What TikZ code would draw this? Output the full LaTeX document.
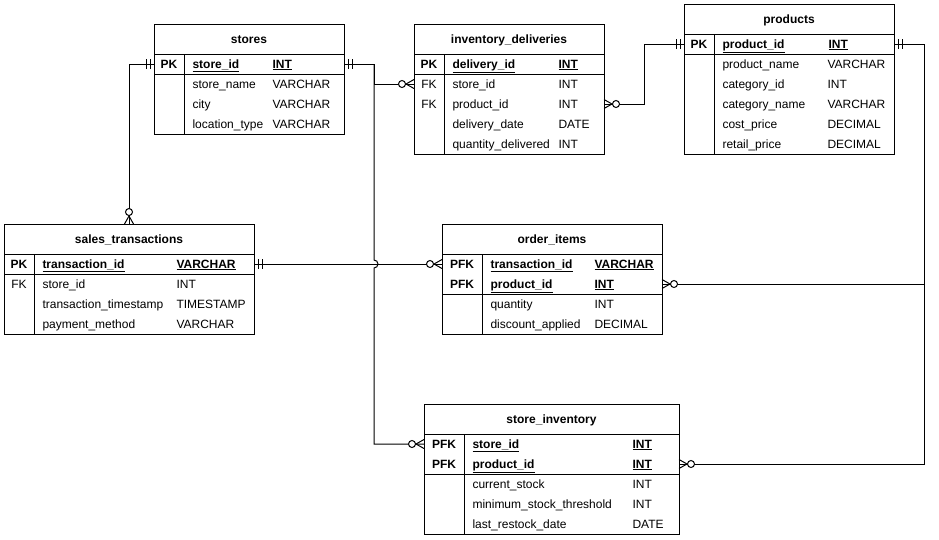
\documentclass[tikz,border=0pt]{standalone}
\usepackage{fontspec}
\setmainfont{Liberation Sans}
\usetikzlibrary{calc}

\tikzset{
  zmany/.pic={\draw (0,-4.5) -- (8,0) -- (0,4.5); \draw[fill=white] (12,0) circle[radius=3.5];},
  onlyone/.pic={\draw (4,-5) -- (4,5) (8,-5) -- (8,5);}
}

\begin{document}
\begin{tikzpicture}[x=1pt,y=-1pt,line width=1pt,
  every node/.style={font=\fontsize{12}{14}\selectfont,inner sep=0pt},
  tbl/.style={draw,anchor=north west,outer sep=0pt},
  ttl/.style={font=\fontsize{12}{14}\selectfont\bfseries,text height=9pt,text depth=1pt},
  fld/.style={anchor=west,text height=9pt,text depth=1pt},
  kfld/.style={fld,font=\fontsize{12}{14}\selectfont\bfseries},
  kcol/.style={text height=9pt,text depth=1pt},
  kbold/.style={kcol,font=\fontsize{12}{14}\selectfont\bfseries},
  conn/.style={line width=1pt}
]
  \useasboundingbox (0,0) rectangle (939,539);

  % stores
  \node[tbl,minimum width=190pt,minimum height=110pt] (stores) at (154,24) {};
  \node[ttl] (st-ttl) at (249,39) {stores};
  \draw (154,54) -- (344,54) (154,74) -- (344,74) (184,54) -- (184,134);
  \node[kbold] (st-k) at (169,64) {PK};
  \node[kfld] (st-id) at (192,64) {\underline{store\_id}};
  \node[kfld] (st-idt) at (272,64) {\underline{INT}};
  \foreach \y/\n/\t in {84/store\_name/VARCHAR,104/city/VARCHAR,124/location\_type/VARCHAR}
    {\node[fld] (st-n\y) at (192,\y) {\n}; \node[fld] (st-t\y) at (272,\y) {\t};}

  % inventory_deliveries
  \node[tbl,minimum width=190pt,minimum height=130pt] (idel) at (414,24) {};
  \node[ttl] (id-ttl) at (509,39) {inventory\_deliveries};
  \draw (414,54) -- (604,54) (414,74) -- (604,74) (444,54) -- (444,154);
  \node[kbold] (id-k) at (429,64) {PK};
  \node[kfld] (id-id) at (452,64) {\underline{delivery\_id}};
  \node[kfld] (id-idt) at (558,64) {\underline{INT}};
  \node[kcol] (id-k2) at (429,84) {FK};
  \node[fld] (id-store) at (452,84) {store\_id};
  \node[fld] (id-storet) at (558,84) {INT};
  \node[kcol] (id-k3) at (429,104) {FK};
  \node[fld] (id-prod) at (452,104) {product\_id};
  \node[fld] (id-prodt) at (558,104) {INT};
  \foreach \y/\n/\t in {124/delivery\_date/DATE,144/quantity\_delivered/INT}
    {\node[fld] (id-n\y) at (452,\y) {\n}; \node[fld] (id-t\y) at (558,\y) {\t};}

  % products
  \node[tbl,minimum width=210pt,minimum height=150pt] (prod) at (684,4) {};
  \node[ttl] (pr-ttl) at (789,19) {products};
  \draw (684,34) -- (894,34) (684,54) -- (894,54) (714,34) -- (714,154);
  \node[kbold] (pr-k) at (699,44) {PK};
  \node[kfld] (pr-id) at (722,44) {\underline{product\_id}};
  \node[kfld] (pr-idt) at (828,44) {\underline{INT}};
  \foreach \y/\n/\t in {64/product\_name/VARCHAR,84/category\_id/INT,104/category\_name/VARCHAR,
    124/cost\_price/DECIMAL,144/retail\_price/DECIMAL}
    {\node[fld] (pr-n\y) at (722,\y) {\n}; \node[fld] (pr-t\y) at (827,\y) {\t};}

  % sales_transactions
  \node[tbl,minimum width=250pt,minimum height=110pt] (sales) at (4,224) {};
  \node[ttl] (tr-ttl) at (129,239) {sales\_transactions};
  \draw (4,254) -- (254,254) (4,274) -- (254,274) (34,254) -- (34,334);
  \node[kbold] (tr-k) at (19,264) {PK};
  \node[kfld] (tr-id) at (42,264) {\underline{transaction\_id}};
  \node[kfld] (tr-idt) at (176,264) {\underline{VARCHAR}};
  \node[kcol] (tr-k2) at (19,284) {FK};
  \foreach \y/\n/\t in {284/store\_id/INT,304/transaction\_timestamp/TIMESTAMP,324/payment\_method/VARCHAR}
    {\node[fld] (tr-n\y) at (42,\y) {\n}; \node[fld] (tr-t\y) at (176,\y) {\t};}

  % order_items
  \node[tbl,minimum width=220pt,minimum height=110pt] (oi) at (442,224) {};
  \node[ttl] (oi-ttl) at (552,239) {order\_items};
  \draw (442,254) -- (662,254) (442,294) -- (662,294) (482,254) -- (482,334);
  \node[kbold] (oi-k) at (462,264) {PFK};
  \node[kfld] (oi-tr) at (490,264) {\underline{transaction\_id}};
  \node[kfld] (oi-trt) at (594,264) {\underline{VARCHAR}};
  \node[kbold] (oi-k2) at (462,284) {PFK};
  \node[kfld] (oi-prod) at (490,284) {\underline{product\_id}};
  \node[kfld] (oi-prodt) at (594,284) {\underline{INT}};
  \foreach \y/\n/\t in {304/quantity/INT,324/discount\_applied/DECIMAL}
    {\node[fld] (oi-n\y) at (490,\y) {\n}; \node[fld] (oi-t\y) at (594,\y) {\t};}

  % store_inventory
  \node[tbl,minimum width=255pt,minimum height=130pt] (sinv) at (424,404) {};
  \node[ttl] (si-ttl) at (551.5,419) {store\_inventory};
  \draw (424,434) -- (679,434) (424,474) -- (679,474) (464,434) -- (464,534);
  \node[kbold] (si-k) at (444,444) {PFK};
  \node[kfld] (si-store) at (472,444) {\underline{store\_id}};
  \node[kfld] (si-storet) at (632,444) {\underline{INT}};
  \node[kbold] (si-k2) at (444,464) {PFK};
  \node[kfld] (si-prod) at (472,464) {\underline{product\_id}};
  \node[kfld] (si-prodt) at (632,464) {\underline{INT}};
  \foreach \y/\n/\t in {484/current\_stock/INT,504/minimum\_stock\_threshold/INT,524/last\_restock\_date/DATE}
    {\node[fld] (si-n\y) at (472,\y) {\n}; \node[fld] (si-t\y) at (632,\y) {\t};}

  % relations
  \coordinate (sbus) at (374,64);
  \coordinate (pbus) at (644,44);
  \coordinate (pbus2) at (924,44);
  \draw[conn] (stores.west |- st-id) -| (sales.north);
  \draw[conn] (stores.east |- st-id) -- (sbus) |- (idel.west |- id-store);
  \draw[conn] (sbus) -- ($(sbus |- tr-id)+(0,-4)$) arc[start angle=-90,end angle=90,radius=4]
    |- (sinv.west |- si-store);
  \draw[conn] (sales.east |- tr-id) -- (oi.west |- oi-tr);
  \draw[conn] (prod.west |- pr-id) -- (pbus) |- (idel.east |- id-prod);
  \draw[conn] (prod.east |- pr-id) -- (pbus2) |- (sinv.east |- si-prod);
  \draw[conn] (pbus2) |- (oi.east |- oi-prod);

  % ends
  \pic[rotate=180] at (stores.west |- st-id) {onlyone};
  \pic[rotate=90] at (sales.north) {zmany};
  \pic at (stores.east |- st-id) {onlyone};
  \pic[rotate=180] at (idel.west |- id-store) {zmany};
  \pic[rotate=180] at (sinv.west |- si-store) {zmany};
  \pic at (sales.east |- tr-id) {onlyone};
  \pic[rotate=180] at (oi.west |- oi-tr) {zmany};
  \pic[rotate=180] at (prod.west |- pr-id) {onlyone};
  \pic at (idel.east |- id-prod) {zmany};
  \pic at (prod.east |- pr-id) {onlyone};
  \pic at (sinv.east |- si-prod) {zmany};
  \pic at (oi.east |- oi-prod) {zmany};
\end{tikzpicture}
\end{document}
